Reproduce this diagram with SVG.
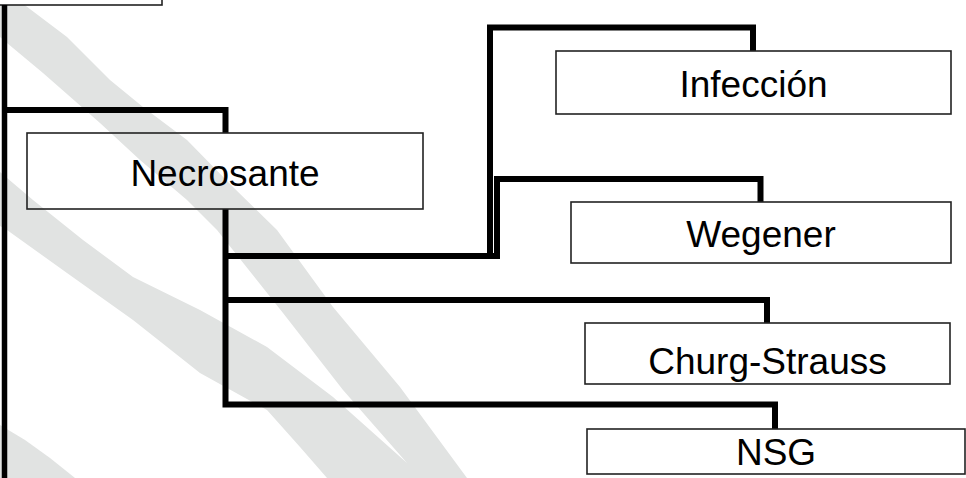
<svg xmlns="http://www.w3.org/2000/svg" width="966" height="478" viewBox="0 0 966 478">
  <style>
    .box { fill: #ffffff; stroke: #222222; stroke-width: 1.6; }
    .open { fill: none; }
    .lbl { font-family: "Liberation Sans", Arial, sans-serif; font-size: 37px; fill: #000000; text-anchor: middle; }
    .conn { fill: none; stroke: #000000; stroke-width: 6; stroke-linejoin: miter; stroke-linecap: butt; }
    .wm { fill: #e1e3e2; stroke: none; }
  </style>
  <rect x="0" y="0" width="966" height="478" fill="#ffffff"/>
  <g id="watermark">
    <polygon class="wm" points="18,0 67,37 110,80 143,107 187,140 233,187 277,230 333,307 400,387 467,478 327,478 300,447 267,410 200,373 133,320 67,273 7,230 0,226 0,172 33,200 83,240 133,277 200,310 267,347 333,397 407,463 343,390 283,313 217,230 187,200 140,160 100,123 43,73 7,43 0,37 0,0"/>
    <polygon class="wm" points="0,425 25,440 50,458 75,478 0,478"/>
  </g>
  <g id="node-root">
    <rect class="box" x="-10" y="-40" width="172" height="45"/>
  </g>
  <g id="connectors">
    <path class="conn" d="M4.5,5 V478" style="stroke-width:5.5"/>
    <path class="conn" d="M4.5,110 H225.5 V133"/>
    <path class="conn" d="M225.5,209 V404.5 H775 V429"/>
    <path class="conn" d="M225.5,256 H490 V27.5 H753 V51"/>
    <path class="conn" d="M490,256 H497 V179 H760.5 V202"/>
    <path class="conn" d="M225.5,300 H767 V323"/>
  </g>
  <g id="node-necrosante">
    <rect class="box open" x="27" y="133" width="396" height="76"/>
    <text class="lbl" x="225" y="186">Necrosante</text>
  </g>
  <g id="node-infeccion">
    <rect class="box" x="556" y="51" width="395" height="63"/>
    <text class="lbl" x="753.5" y="97">Infección</text>
  </g>
  <g id="node-wegener">
    <rect class="box" x="571" y="202" width="380" height="61"/>
    <text class="lbl" x="761" y="247">Wegener</text>
  </g>
  <g id="node-churg">
    <rect class="box" x="585" y="323" width="365" height="61"/>
    <text class="lbl" x="767.5" y="374">Churg-Strauss</text>
  </g>
  <g id="node-nsg">
    <rect class="box" x="587" y="429" width="378" height="45"/>
    <text class="lbl" x="776" y="465">NSG</text>
  </g>
</svg>
